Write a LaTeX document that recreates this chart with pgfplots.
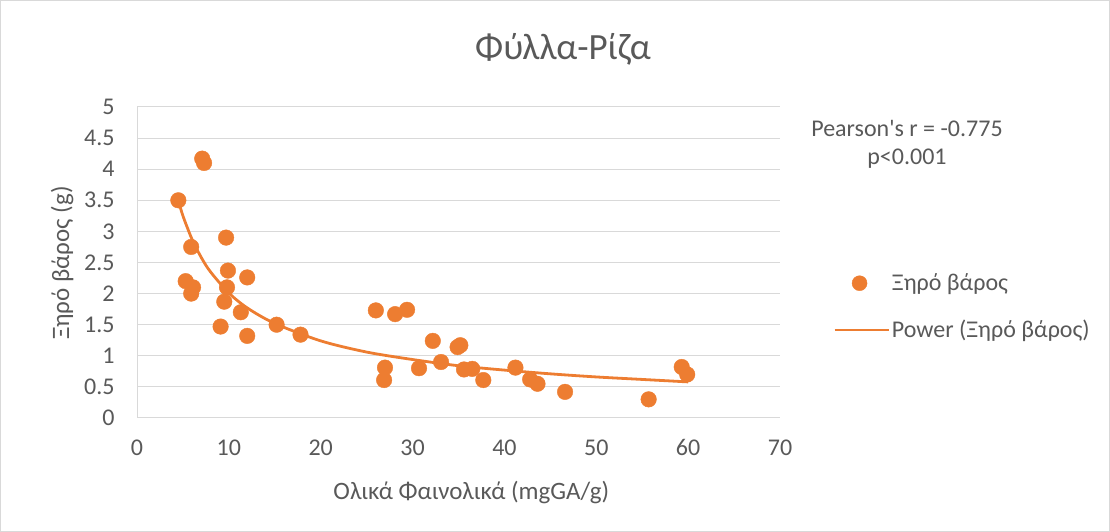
\documentclass[border=0pt]{standalone}
\usepackage{pgfplots}
\pgfplotsset{compat=1.18}
\usepackage{fontspec}
\setmainfont{Carlito}[Ligatures=TeXOff]
\definecolor{xlorange}{HTML}{ED7D31}
\definecolor{xltext}{HTML}{595959}
\definecolor{xlgrid}{HTML}{D9D9D9}
\begin{document}
\begin{tikzpicture}
\useasboundingbox (0,0) rectangle (1110bp,532bp);
\draw[xlgrid, line width=1bp] (0.5bp,0.5bp) rectangle (1109.5bp,531.5bp);
\begin{axis}[
  at={(137bp,114bp)}, anchor=south west,
  scale only axis, width=643bp, height=311bp,
  xmin=0, xmax=70, ymin=0, ymax=5,
  xtick={0,10,...,70}, ytick={0,0.5,...,5},
  axis x line=bottom, axis y line=left,
  axis line style={xlgrid, line width=1bp, -},
  major tick length=0pt,
  ymajorgrids, grid style={xlgrid, line width=1bp},
  tick label style={font=\fontsize{24bp}{28bp}\selectfont, text=xltext},
  /pgf/number format/assume math mode=true,
  yticklabel style={/pgf/number format/fixed, /pgf/number format/precision=1, xshift=-19bp},
  xticklabel style={yshift=-18bp},
  title={Φύλλα-Ρίζα},
  title style={at={(axis description cs:0.6625,1.167)}, anchor=center, font=\fontsize{37bp}{44bp}\selectfont, text=xltext},
  xlabel={Ολικά Φαινολικά (mgGA/g)},
  xlabel style={at={(axis description cs:0.520,-0.238)}, anchor=center, font=\fontsize{25bp}{30bp}\selectfont, text=xltext},
  ylabel={Ξηρό βάρος (g)},
  ylabel style={at={(axis description cs:-0.1166,0.498)}, anchor=center, rotate=0, font=\fontsize{25bp}{30bp}\selectfont, text=xltext},
  legend style={at={(axis description cs:1.0824,0.470)}, anchor=north west, draw=none, fill=none,
    font=\fontsize{24bp}{28bp}\selectfont, text=xltext, row sep=24bp, inner sep=0pt,
    /tikz/every even column/.append style={column sep=0bp}},
  legend cell align=left,
  clip=false,
]
\addplot[only marks, mark=*, mark size=7.8bp, mark options={fill=xlorange, draw=xlorange},
  legend image code/.code={\draw[fill=xlorange, draw=xlorange] (25bp,0) circle (7.5bp); \path (0,0) (54bp,0);}]
coordinates {
(4.5,3.5) (7.1,4.17) (7.3,4.1) (5.9,2.75) (9.7,2.9) (5.3,2.2) (6.1,2.1) (5.9,2.0)
(9.9,2.37) (9.8,2.1) (12.0,2.26) (9.5,1.87) (11.3,1.7) (9.1,1.47) (12.0,1.32)
(15.2,1.5) (17.8,1.34) (26.0,1.73) (28.1,1.67) (29.4,1.74) (32.2,1.24) (34.9,1.14)
(35.2,1.17) (27.0,0.81) (26.9,0.61) (30.7,0.8) (33.1,0.9) (35.6,0.78) (36.5,0.79)
(37.7,0.61) (41.2,0.81) (42.8,0.62) (43.6,0.55) (46.6,0.42) (55.7,0.3) (59.3,0.82) (59.9,0.7)
};
\addlegendentry{Ξηρό βάρος}
\addplot[xlorange, line width=2.8bp, smooth, no marks,
  legend image code/.code={\draw[xlorange, line width=2.8bp] (0,0) -- (54bp,0);}]
coordinates {
(4.5,3.50) (5,3.25) (6,2.87) (7,2.58) (8,2.35) (10,2.01) (12,1.77) (15,1.52)
(20,1.24) (25,1.06) (30,0.94) (35,0.84) (40,0.77) (45,0.71) (50,0.66) (55,0.62) (60,0.58)
};
\addlegendentry{Power (Ξηρό βάρος)}
\node[align=center, text=xltext, font=\fontsize{24bp}{28bp}\selectfont, anchor=center]
  at (axis description cs:1.1975,0.881) {Pearson's r = -0.775\\p<0.001};
\end{axis}
\end{tikzpicture}
\end{document}
